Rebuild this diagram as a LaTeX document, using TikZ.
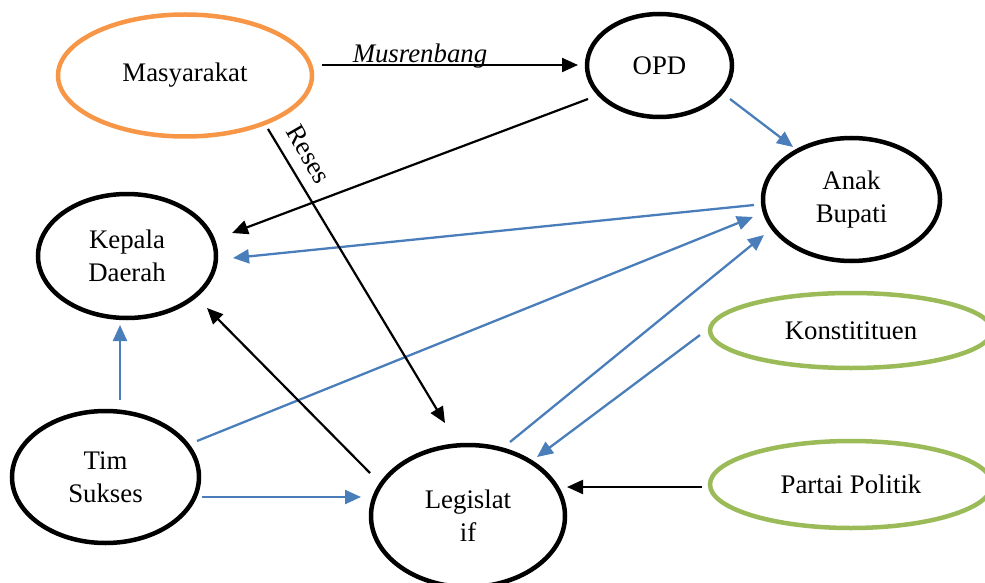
\documentclass[tikz,border=0pt]{standalone}
\usepackage{fontspec}
\setmainfont{Liberation Serif}
\usetikzlibrary{shapes.geometric,arrows.meta,calc}
\definecolor{orng}{HTML}{F79646}
\definecolor{grn}{HTML}{9BBB59}
\definecolor{blu}{HTML}{4A7EBB}
\begin{document}
\begin{tikzpicture}[x=1pt,y=-1pt,
  ell/.style={ellipse,draw=black,line width=4.5pt,inner sep=0pt,align=center,
    font=\fontsize{26.8}{33}\selectfont},
  oell/.style={ell,draw=orng},
  gell/.style={ell,draw=grn},
  blk/.style={draw=black,line width=2.2pt,-{Triangle[length=16pt,width=14pt]}},
  bl/.style={draw=blu,line width=2.3pt,-{Triangle[length=16pt,width=14pt]}},
  lbl/.style={font=\fontsize{26.8}{33}\selectfont,inner sep=0pt}]
\path[use as bounding box] (0,0) rectangle (985,583);
% nodes
\node[oell,minimum width=254pt,minimum height=122pt] (mas) at (185,75.5) {Masyarakat};
\node[ell,minimum width=145pt,minimum height=103pt] (opd) at (659.5,65.5) {OPD};
\node[ell,minimum width=177pt,minimum height=123pt] (ab) at (851.5,199.5) {Anak\\Bupati};
\node[ell,minimum width=178pt,minimum height=124pt] (kd) at (127,256) {Kepala\\Daerah};
\node[gell,minimum width=282pt,minimum height=75pt] (kon) at (851,330.5) {Konstitituen};
\node[ell,minimum width=187pt,minimum height=132pt] (ts) at (105.5,477) {Tim\\Sukses};
\node[ell,minimum width=194pt,minimum height=142pt] (leg) at (468,516) {Legislat\\if};
\node[gell,minimum width=282pt,minimum height=87pt] (pp) at (851,484.5) {Partai Politik};
% connectors
\draw[blk] ($(mas)+(137,-10.5)$) -- ($(opd)+(-81.5,-0.5)$);
\node[lbl,anchor=base,font=\fontsize{26.8}{33}\selectfont\itshape] (mus) at (420,63) {Musrenbang};
\draw[blk] ($(opd)+(-71.5,33.5)$) -- ($(kd)+(105,-23)$);
\draw[bl] ($(opd)+(70.5,33.5)$) -- ($(ab)+(-58.5,-52.5)$);
\draw[bl] ($(ab)+(-97.5,5.5)$) -- ($(kd)+(106,2)$);
\draw[bl] ($(ts)+(91.5,-36)$) -- ($(ab)+(-98.5,17.5)$);
\draw[bl] ($(leg)+(42,-74)$) -- ($(ab)+(-87.5,35.5)$);
\draw[bl] ($(kon)+(-151,4.5)$) -- ($(leg)+(69,-59)$);
\draw[blk] ($(pp)+(-149,2.5)$) -- ($(leg)+(99,-29)$);
\draw[bl] ($(ts)+(96.5,20)$) -- ($(leg)+(-107,-19)$);
\draw[bl] ($(ts)+(14.5,-77)$) -- ($(kd)+(-7,69)$);
\draw[blk] ($(leg)+(-98,-43)$) -- ($(kd)+(80,52)$);
\draw[blk] ($(mas)+(83,53.5)$) -- ($(leg)+(-23,-93)$);
\node[lbl,rotate=-60] (reses) at (309,154) {Reses};
\end{tikzpicture}
\end{document}
